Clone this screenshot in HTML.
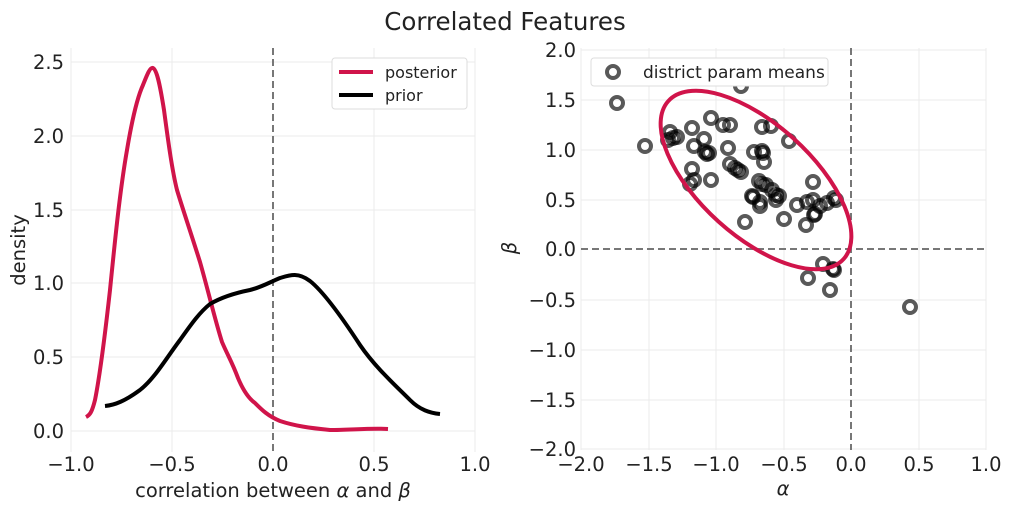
<!DOCTYPE html>
<html><head><style>
body{margin:0;background:#fff;}
svg{font-family:"DejaVu Sans","Liberation Sans",sans-serif;}
</style></head><body>
<svg width="1011" height="511" viewBox="0 0 1011 511" xmlns="http://www.w3.org/2000/svg">
<text x="505" y="30" font-size="24.5" text-anchor="middle" fill="#222">Correlated Features</text>
<g stroke="#ebebeb" stroke-width="1">
<line x1="71" y1="48" x2="71" y2="452"/><line x1="172" y1="48" x2="172" y2="452"/><line x1="374" y1="48" x2="374" y2="452"/><line x1="475" y1="48" x2="475" y2="452"/>
<line x1="71" y1="431" x2="475" y2="431"/><line x1="71" y1="357" x2="475" y2="357"/><line x1="71" y1="283" x2="475" y2="283"/><line x1="71" y1="210" x2="475" y2="210"/><line x1="71" y1="136" x2="475" y2="136"/><line x1="71" y1="62" x2="475" y2="62"/>
</g>
<line x1="273" y1="48" x2="273" y2="452" stroke="#777" stroke-width="2" stroke-dasharray="7,4"/>
<path d="M86,417 C90,415 92,412 95,400 C100,375 105,335 110,290 C115,240 120,190 127,150 C132,120 137,98 143,85 C147,75 150,67 153,68 C157,70 160,85 164,110 C168,140 172,170 177,190 C183,210 190,230 200,262 C208,290 215,320 222,342 C228,356 232,362 238,378 C243,390 248,398 255,403 C262,410 268,416 280,421 C295,426 310,428 330,430 C350,430 370,428 388,429" fill="none" stroke="#d0144a" stroke-width="4" stroke-linejoin="round"/>
<path d="M105,406 C115,405 125,401 140,390 C155,378 165,360 180,340 C192,323 200,312 210,304 C222,297 235,293 250,290 C262,287 268,283 280,278 C290,275 298,272 310,281 C325,293 345,322 360,345 C375,367 395,385 410,400 C420,410 430,413 440,414" fill="none" stroke="#000" stroke-width="4" stroke-linejoin="round"/>
<g font-size="19.5" fill="#222" text-anchor="middle">
<text x="71" y="471">−1.0</text><text x="172" y="471">−0.5</text><text x="273" y="471">0.0</text><text x="374" y="471">0.5</text><text x="475" y="471">1.0</text>
</g>
<g font-size="19.5" fill="#222" text-anchor="end">
<text x="64" y="438">0.0</text><text x="64" y="364">0.5</text><text x="64" y="290">1.0</text><text x="64" y="217">1.5</text><text x="64" y="143">2.0</text><text x="64" y="69">2.5</text>
</g>
<text x="273" y="497" font-size="19.5" text-anchor="middle" fill="#222">correlation between <tspan font-style="italic">α</tspan> and <tspan font-style="italic">β</tspan></text>
<text x="25" y="250" font-size="19.5" text-anchor="middle" fill="#222" transform="rotate(-90 25 250)">density</text>
<rect x="332" y="58" width="135" height="51" rx="3" fill="#fff" stroke="#ddd"/>
<line x1="339" y1="72" x2="373" y2="72" stroke="#d0144a" stroke-width="4"/>
<line x1="339" y1="95" x2="373" y2="95" stroke="#000" stroke-width="4"/>
<text x="385" y="78" font-size="16" fill="#222">posterior</text>
<text x="385" y="101" font-size="16" fill="#222">prior</text>
<g stroke="#ebebeb" stroke-width="1">
<line x1="581" y1="48" x2="581" y2="450"/><line x1="649" y1="48" x2="649" y2="450"/><line x1="716" y1="48" x2="716" y2="450"/><line x1="784" y1="48" x2="784" y2="450"/><line x1="919" y1="48" x2="919" y2="450"/><line x1="986" y1="48" x2="986" y2="450"/>
<line x1="581" y1="50" x2="986" y2="50"/><line x1="581" y1="100" x2="986" y2="100"/><line x1="581" y1="150" x2="986" y2="150"/><line x1="581" y1="200" x2="986" y2="200"/><line x1="581" y1="300" x2="986" y2="300"/><line x1="581" y1="350" x2="986" y2="350"/><line x1="581" y1="400" x2="986" y2="400"/><line x1="581" y1="449" x2="986" y2="449"/>
</g>
<line x1="851" y1="48" x2="851" y2="450" stroke="#777" stroke-width="2" stroke-dasharray="7,4"/>
<line x1="581" y1="249" x2="986" y2="249" stroke="#777" stroke-width="2" stroke-dasharray="7,4"/>
<g fill="none" stroke="#000" stroke-opacity="0.65" stroke-width="4">
<circle cx="617" cy="103" r="6"/><circle cx="645" cy="146" r="6"/><circle cx="670" cy="132" r="6"/><circle cx="673" cy="138" r="6"/><circle cx="668" cy="140" r="6"/><circle cx="677" cy="137" r="6"/>
<circle cx="692" cy="128" r="6"/><circle cx="692" cy="169" r="6"/><circle cx="690" cy="184" r="6"/><circle cx="694" cy="180" r="6"/><circle cx="694" cy="146" r="6"/><circle cx="704" cy="139" r="6"/>
<circle cx="705" cy="152" r="6"/><circle cx="707" cy="154" r="6"/><circle cx="709" cy="153" r="6"/><circle cx="711" cy="180" r="6"/><circle cx="711" cy="118" r="6"/>
<circle cx="723" cy="125" r="6"/><circle cx="730" cy="125" r="6"/><circle cx="728" cy="148" r="6"/><circle cx="741" cy="86" r="6"/>
<circle cx="730" cy="164" r="6"/><circle cx="735" cy="168" r="6"/><circle cx="738" cy="170" r="6"/><circle cx="741" cy="172" r="6"/><circle cx="745" cy="222" r="6"/>
<circle cx="754" cy="152" r="6"/><circle cx="762" cy="127" r="6"/><circle cx="771" cy="126" r="6"/><circle cx="753" cy="197" r="6"/><circle cx="763" cy="153" r="6"/><circle cx="764" cy="162" r="6"/><circle cx="762" cy="151" r="6"/>
<circle cx="759" cy="181" r="6"/><circle cx="762" cy="184" r="6"/><circle cx="766" cy="185" r="6"/><circle cx="752" cy="196" r="6"/><circle cx="760" cy="202" r="6"/><circle cx="760" cy="206" r="6"/>
<circle cx="772" cy="190" r="6"/><circle cx="776" cy="195" r="6"/><circle cx="779" cy="196" r="6"/><circle cx="776" cy="200" r="6"/><circle cx="789" cy="141" r="6"/><circle cx="784" cy="219" r="6"/>
<circle cx="797" cy="205" r="6"/><circle cx="807" cy="202" r="6"/><circle cx="813" cy="182" r="6"/><circle cx="813" cy="200" r="6"/><circle cx="820" cy="206" r="6"/>
<circle cx="814" cy="215" r="6"/><circle cx="815" cy="214" r="6"/><circle cx="806" cy="225" r="6"/><circle cx="827" cy="203" r="6"/><circle cx="834" cy="198" r="6"/><circle cx="836" cy="200" r="6"/>
<circle cx="823" cy="264" r="6"/><circle cx="833" cy="269" r="6"/><circle cx="834" cy="270" r="6"/><circle cx="808" cy="278" r="6"/><circle cx="830" cy="290" r="6"/><circle cx="910" cy="307" r="6"/>
</g>
<ellipse cx="756" cy="180" rx="118" ry="56" transform="rotate(42 756 180)" fill="none" stroke="#d0144a" stroke-width="4"/>
<g font-size="19.5" fill="#222" text-anchor="middle">
<text x="581" y="471">−2.0</text><text x="649" y="471">−1.5</text><text x="716" y="471">−1.0</text><text x="784" y="471">−0.5</text><text x="851" y="471">0.0</text><text x="919" y="471">0.5</text><text x="986" y="471">1.0</text>
</g>
<g font-size="19.5" fill="#222" text-anchor="end">
<text x="576" y="57">2.0</text><text x="576" y="107">1.5</text><text x="576" y="157">1.0</text><text x="576" y="207">0.5</text><text x="576" y="256">0.0</text><text x="576" y="307">−0.5</text><text x="576" y="357">−1.0</text><text x="576" y="407">−1.5</text><text x="576" y="456">−2.0</text>
</g>
<text x="783" y="495" font-size="19.5" font-style="italic" text-anchor="middle" fill="#222">α</text>
<text x="516" y="248" font-size="19.5" font-style="italic" text-anchor="middle" fill="#222" transform="rotate(-90 516 248)">β</text>
<rect x="591" y="58" width="237" height="28" rx="3" fill="#fff" stroke="#ddd"/>
<circle cx="613" cy="72" r="6" fill="none" stroke="#000" stroke-opacity="0.65" stroke-width="4"/>
<text x="643" y="78" font-size="17" fill="#222">district param means</text>
</svg>
</body></html>
